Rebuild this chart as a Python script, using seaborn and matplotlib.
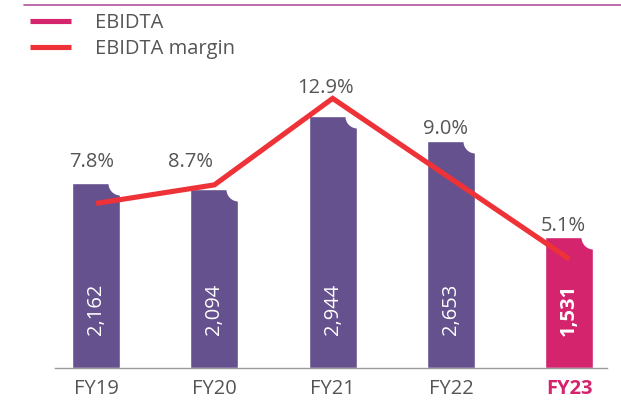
import numpy as np
import pandas as pd
import matplotlib.pyplot as plt
from matplotlib.lines import Line2D
import seaborn as sns


# Data
years = ['FY19', 'FY20', 'FY21', 'FY22', 'FY23']
ebidta = [2162, 2094, 2944, 2653, 1531]
margin = [7.8, 8.7, 12.9, 9.0, 5.1]
ebidta_labels = ['2,162', '2,094', '2,944', '2,653', '1,531']
margin_labels = ['7.8%', '8.7%', '12.9%', '9.0%', '5.1%']

# Colours
purple = '#66518f'
pink = '#d3246d'
red = '#ee3237'
grey = '#555555'
bar_cols = [purple, purple, purple, purple, pink]

# Hand-placed nudges for the percentage labels (points)
pct_dx = [-3, -17, -5, -4, -4]
pct_dy = [15, 19, 20, 9, 8]

df = pd.DataFrame({'year': years, 'ebidta': ebidta, 'margin': margin})

sns.set_style('white')
plt.rcParams['font.family'] = ['Open Sans', 'DejaVu Sans']
fs = 14.5

fig = plt.figure(figsize=(6.21, 4.03), dpi=100)
ax = fig.add_axes([0.0886, 0.0868, 0.889, 0.739])

sns.barplot(data=df, x='year', y='ebidta', hue='year', palette=bar_cols,
            width=0.406, saturation=1, legend=False, ax=ax)
ax.set_xlim(-0.347, 4.32)
ax.set_ylim(0, 3481)

# Cut the rounded notch in each bar's top-right corner
for p in ax.patches:
    ax.scatter(p.get_x() + p.get_width(), p.get_height(), s=300,
               color='white', linewidth=0, zorder=5)

# Values inside the bars
for i, lab in enumerate(ebidta_labels):
    ax.annotate(lab, xy=(i, 0), xytext=(0, 42), textcoords='offset points',
                rotation=90, ha='center', va='center', color='white',
                fontsize=fs, fontweight='bold' if i == 4 else 'normal',
                zorder=6)

# Percentage labels above the bars
for i, lab in enumerate(margin_labels):
    ax.annotate(lab, xy=(i, ebidta[i]), xytext=(pct_dx[i], pct_dy[i]),
                textcoords='offset points', ha='center', va='center',
                color=grey, fontsize=fs)

ax.set_xlabel('')
ax.set_ylabel('')
ax.set_yticks([])
ax.tick_params(axis='x', length=0, pad=8, labelsize=fs, labelcolor=grey)
ticklabels = ax.get_xticklabels()
ticklabels[-1].set_color(pink)
ticklabels[-1].set_fontweight('bold')
sns.despine(ax=ax, left=True)
ax.spines['bottom'].set_color('#9a9a9a')
ax.spines['bottom'].set_linewidth(1.0)

# EBIDTA margin line on a twin axis
ax2 = ax.twinx()
sns.lineplot(x=np.arange(len(years)), y=margin, color=red, linewidth=3.7,
             ax=ax2)
ax2.lines[0].set_solid_joinstyle('miter')
ax2.lines[0].set_solid_capstyle('butt')
ax2.set_ylim(-0.194, 14.27)
ax2.set_yticks([])
for s in ax2.spines.values():
    s.set_visible(False)

# Legend
handles = [Line2D([], [], color=pink, lw=3.7, solid_capstyle='butt'),
           Line2D([], [], color=red, lw=3.7, solid_capstyle='butt')]
leg = fig.legend(handles, ['EBIDTA', 'EBIDTA margin'], loc='upper left',
                 bbox_to_anchor=(0.048, 0.967), frameon=False,
                 fontsize=fs, handlelength=2.05, handletextpad=1.2,
                 labelspacing=0.3, borderpad=0, borderaxespad=0)
for t in leg.get_texts():
    t.set_color(grey)

# Thin rule across the top
fig.add_artist(Line2D([24 / 621, 1], [1 - 5 / 403, 1 - 5 / 403],
                      color='#b0539c', lw=1.2))

plt.savefig('out.png', dpi=100)
